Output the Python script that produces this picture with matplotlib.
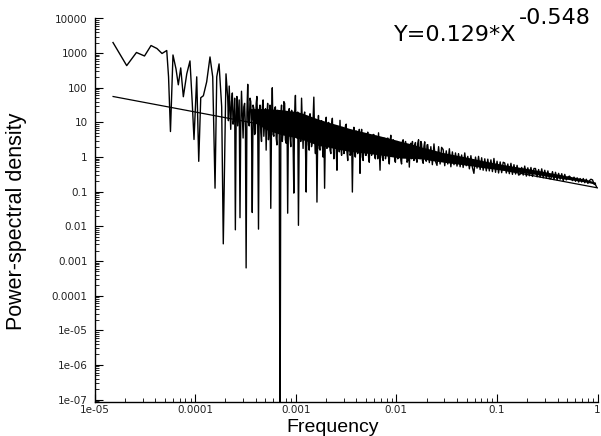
import numpy as np
import matplotlib
matplotlib.use("Agg")
import matplotlib.pyplot as plt
from matplotlib.ticker import LogLocator, NullFormatter

# spectrum, low-frequency part (log10 values)
low_log_freq = [-4.816, -4.680, -4.583, -4.503, -4.438, -4.379, -4.329, -4.282,
                -4.264, -4.245, -4.220, -4.190, -4.167, -4.143, -4.117, -4.083,
                -4.051, -4.028, -4.011, -3.984, -3.964, -3.944, -3.918, -3.885,
                -3.852, -3.825, -3.802, -3.785, -3.762, -3.736, -3.720, -3.693]
low_log_psd = [3.306, 2.640, 3.019, 2.918, 3.220, 3.133, 2.990, 3.076,
               2.316, 0.737, 2.947, 2.545, 2.086, 2.574, 1.742, 2.402,
               2.775, 1.541, 0.508, 2.316, -0.123, 1.713, 1.770, 2.172,
               2.890, 2.316, -0.898, 2.316, 2.689, 1.455, -2.505, 2.402]

# spectrum, dense part (busy middle section)
mid_log_freq = [
    -3.676, -3.669, -3.661, -3.653, -3.646, -3.638, -3.630, -3.623, -3.615, -3.607,
    -3.600, -3.592, -3.585, -3.577, -3.569, -3.562, -3.554, -3.546, -3.539, -3.531,
    -3.523, -3.516, -3.508, -3.500, -3.493, -3.485, -3.477, -3.470, -3.462, -3.454,
    -3.447, -3.439, -3.432, -3.424, -3.416, -3.409, -3.401, -3.393, -3.386, -3.378,
    -3.370, -3.363, -3.355, -3.347, -3.340, -3.332, -3.324, -3.317, -3.309, -3.301,
    -3.294, -3.286, -3.279, -3.271, -3.263, -3.256, -3.248, -3.240, -3.233, -3.225,
    -3.217, -3.210, -3.202, -3.194, -3.187, -3.179, -3.171, -3.164, -3.156, -3.148,
    -3.141, -3.133, -3.126, -3.118, -3.110, -3.103, -3.095, -3.087, -3.080, -3.072,
    -3.064, -3.057, -3.049, -3.041, -3.034, -3.026, -3.019, -3.011, -3.003, -2.996,
    -2.988, -2.980, -2.973, -2.965, -2.957, -2.950, -2.942, -2.934, -2.927, -2.919,
    -2.911, -2.904, -2.896, -2.888, -2.881, -2.873, -2.866, -2.858, -2.850, -2.843,
    -2.835, -2.827, -2.820, -2.812, -2.804, -2.797, -2.789, -2.781, -2.774, -2.766,
    -2.758, -2.751, -2.743, -2.735, -2.728, -2.720, -2.713, -2.705, -2.697, -2.690,
    -2.682, -2.674, -2.667, -2.659, -2.651, -2.644, -2.636, -2.628, -2.621, -2.613,
    -2.605, -2.598, -2.590, -2.582, -2.575, -2.567, -2.560, -2.552, -2.544, -2.537,
    -2.529, -2.521, -2.514, -2.506, -2.498, -2.491, -2.483, -2.475, -2.468, -2.460,
    -2.452, -2.445, -2.437, -2.429, -2.422, -2.414, -2.407, -2.399, -2.391, -2.384,
    -2.376, -2.368, -2.361, -2.353, -2.345, -2.338, -2.330, -2.322, -2.315, -2.307,
    -2.299, -2.292, -2.284, -2.276, -2.269, -2.261, -2.254, -2.246, -2.238, -2.231,
    -2.223, -2.215, -2.208, -2.200, -2.192, -2.185, -2.177, -2.169, -2.162, -2.154,
    -2.146, -2.139, -2.131, -2.123, -2.116, -2.108, -2.101, -2.093, -2.085, -2.078,
    -2.070, -2.062, -2.055, -2.047, -2.039, -2.032, -2.024, -2.016, -2.009, -2.001,
    -1.993, -1.986, -1.978, -1.970, -1.963, -1.955, -1.948, -1.940, -1.932, -1.925,
    -1.917, -1.909, -1.902, -1.894, -1.886, -1.879, -1.871, -1.863, -1.856, -1.848,
    -1.840, -1.833, -1.825, -1.817, -1.810, -1.802, -1.795, -1.787, -1.779, -1.772,
    -1.764, -1.756, -1.749, -1.741, -1.733, -1.726, -1.718, -1.710, -1.703, -1.695]
mid_log_psd = [
    1.70, 1.05, 2.05, 1.40, 0.80, 1.60, 1.85, 0.95, 1.10, 1.70,
    -2.10, 1.20, 1.75, 0.90, 1.30, 1.65, -1.75, 1.00, 1.90, 1.20,
    0.55, 1.45, 1.55, 0.85, -3.20, 1.30, 2.10, 1.00, 0.90, 1.70,
    1.60, 0.75, -1.60, 1.50, 1.40, 0.65, 0.70, 1.55, 1.75, 0.95,
    -2.08, 1.35, 1.50, 0.70, 0.45, 1.45, 1.65, 0.60, 1.00, 1.40,
    0.20, 1.25, 1.55, 0.50, 0.85, 1.50, -1.48, 1.10, 2.00, 0.65,
    0.60, 1.40, 1.45, 0.55, 0.35, 1.35, 1.30, 0.90, -9.00, 1.20,
    1.50, 0.45, 0.75, 1.60, 1.55, 0.50, 0.40, 1.30, -1.62, 1.25,
    1.40, 0.60, 0.30, 1.35, 1.20, 0.40, -1.04, 1.25, 1.78, 0.70,
    0.55, 1.30, -1.97, 0.80, 1.10, 0.45, 1.70, 0.90, 0.25, 1.20,
    1.30, 0.50, -1.01, 1.10, 1.15, 0.35, 0.20, 1.25, 1.00, 0.30,
    0.45, 1.15, 1.73, 0.60, 0.10, 1.05, -1.30, 0.70, 1.20, 0.25,
    0.20, 0.95, 1.05, 0.30, 0.00, 0.85, -0.90, 0.75, 1.15, 0.25,
    0.35, 1.00, 0.95, 0.20, 0.10, 0.90, 1.12, 0.40, -0.05, 0.80,
    0.90, 0.25, -0.38, 0.80, 0.75, 0.15, 1.06, 0.30, 0.05, 0.85,
    0.85, 0.10, 0.20, 0.90, 0.95, 0.15, -0.10, 0.75, 0.70, 0.05,
    0.10, 0.70, -1.01, 0.55, 0.86, 0.05, 0.00, 0.75, 0.70, 0.10,
    0.25, 0.80, -0.47, 0.55, 0.80, 0.00, -0.10, 0.65, 0.60, 0.05,
    0.05, 0.60, 0.72, 0.00, -0.15, 0.50, 0.55, 0.05, 0.20, 0.65,
    0.65, 0.00, -0.05, 0.60, 0.45, -0.05, 0.70, 0.10, -0.38, 0.50,
    0.50, 0.00, -0.10, 0.55, 0.40, -0.05, 0.10, 0.50, 0.55, 0.00,
    -0.20, 0.45, 0.63, 0.05, 0.05, 0.50, 0.45, -0.10, -0.15, 0.40,
    0.45, -0.05, 0.00, 0.40, 0.35, -0.10, -0.20, 0.45, 0.50, 0.00,
    0.15, 0.45, 0.30, -0.15, -0.10, 0.35, -0.29, 0.30, 0.40, -0.05,
    0.45, 0.05, -0.10, 0.35, 0.42, -0.05, -0.15, 0.40, 0.50, 0.00,
    -0.05, 0.45, 0.38, -0.10, -0.18, 0.30, 0.44, 0.00, -0.12, 0.35]

# spectrum, dense part (high-frequency tail)
high_log_freq = [
    -1.688, -1.672, -1.657, -1.642, -1.626, -1.611, -1.596, -1.580, -1.565, -1.550,
    -1.535, -1.519, -1.504, -1.489, -1.473, -1.458, -1.443, -1.427, -1.412, -1.397,
    -1.382, -1.366, -1.351, -1.336, -1.320, -1.305, -1.290, -1.274, -1.259, -1.244,
    -1.229, -1.213, -1.198, -1.183, -1.167, -1.152, -1.137, -1.121, -1.106, -1.091,
    -1.076, -1.060, -1.045, -1.030, -1.014, -0.999, -0.984, -0.968, -0.953, -0.938,
    -0.923, -0.907, -0.892, -0.877, -0.861, -0.846, -0.831, -0.815, -0.800, -0.785,
    -0.770, -0.754, -0.739, -0.724, -0.708, -0.693, -0.678, -0.662, -0.647, -0.632,
    -0.617, -0.601, -0.586, -0.571, -0.555, -0.540, -0.525, -0.509, -0.494, -0.479,
    -0.464, -0.448, -0.433, -0.418, -0.402, -0.387, -0.372, -0.356, -0.341, -0.326,
    -0.311, -0.295, -0.280, -0.265, -0.249, -0.234, -0.219, -0.203, -0.188, -0.173,
    -0.158, -0.142, -0.127, -0.112, -0.096, -0.081, -0.066, -0.050, -0.035, -0.020,
    -0.009]
high_log_psd = [
    0.36, -0.16, 0.30, -0.22, 0.38, -0.12, -0.24, 0.30, -0.20, 0.28,
    0.22, -0.25, 0.18, -0.20, 0.24, -0.28, 0.15, -0.22, 0.12, -0.26,
    0.10, -0.28, 0.06, -0.30, 0.12, -0.25, 0.02, -0.34, 0.04, -0.30,
    -0.47, 0.00, -0.32, 0.02, -0.36, -0.02, -0.38, -0.05, -0.40, -0.06,
    -0.40, -0.08, -0.42, -0.04, -0.44, -0.12, -0.46, -0.14, -0.45, -0.15,
    -0.17, -0.46, -0.20, -0.48, -0.18, -0.50, -0.22, -0.49, -0.24, -0.52,
    -0.50, -0.30, -0.52, -0.26, -0.55, -0.31, -0.54, -0.30, -0.56, -0.33,
    -0.33, -0.57, -0.36, -0.58, -0.34, -0.60, -0.38, -0.61, -0.40, -0.62,
    -0.63, -0.42, -0.65, -0.44, -0.66, -0.47, -0.64, -0.48, -0.69, -0.50,
    -0.66, -0.58, -0.55, -0.60, -0.68, -0.58, -0.70, -0.60, -0.72, -0.62,
    -0.72, -0.62, -0.74, -0.64, -0.76, -0.68, -0.64, -0.66, -0.78, -0.80,
    -0.87]

# where the trace is too dense to resolve: upper / lower edge of its black core
band_log_freq = [-3.45, -3.30, -3.15, -2.98, -2.88, -2.78, -2.68, -2.57, -2.47, -2.36,
                 -2.26, -2.16, -2.05, -1.95, -1.85, -1.75, -1.65, -1.55, -1.45, -1.35,
                 -1.24, -1.14, -1.04, -0.94, -0.84, -0.73, -0.63, -0.53, -0.43, -0.32,
                 -0.22, -0.12, -0.02]
band_top = [1.40, 1.40, 1.37, 1.31, 1.21, 1.10, 1.01, 0.92, 0.83, 0.75,
            0.68, 0.61, 0.53, 0.45, 0.38, 0.29, 0.22, 0.14, 0.08, 0.025,
            -0.04, -0.105, -0.16, -0.215, -0.265, -0.315, -0.365, -0.42, -0.475, -0.535,
            -0.585, -0.64, -0.725]
band_bottom = [1.10, 0.80, 0.65, 0.55, 0.45, 0.34, 0.29, 0.22, 0.17, 0.13,
               0.10, 0.06, 0.01, -0.03, -0.04, -0.05, -0.10, -0.14, -0.18, -0.215,
               -0.26, -0.305, -0.34, -0.375, -0.415, -0.455, -0.495, -0.54, -0.585, -0.635,
               -0.675, -0.72, -0.785]

# power-law fit, end points
fit_freq = [1.53e-5, 1.0]
fit_psd = [56.0, 0.129]
fit_label = "Y=0.129*X"
fit_exponent = "-0.548"

x_ticks = [1e-5, 1e-4, 1e-3, 1e-2, 1e-1, 1]
x_tick_labels = ["1e-05", "0.0001", "0.001", "0.01", "0.1", "1"]
y_ticks = [1e-7, 1e-6, 1e-5, 1e-4, 1e-3, 1e-2, 1e-1, 1, 10, 100, 1000, 10000]
y_tick_labels = ["1e-07", "1e-06", "1e-05", "0.0001", "0.001", "0.01", "0.1",
                 "1", "10", "100", "1000", "10000"]

freq = 10 ** np.array(low_log_freq + mid_log_freq + high_log_freq)
psd = 10 ** np.array(low_log_psd + mid_log_psd + high_log_psd)

plt.rcParams['font.family'] = ['Liberation Sans', 'DejaVu Sans']

W, H = 601, 436
fig = plt.figure(figsize=(W / 100, H / 100), dpi=100)
ax = fig.add_axes([94.5 / W, 1 - 402 / H, 503.5 / W, 383.5 / H])

ax.fill_between(10 ** np.array(band_log_freq), 10 ** np.array(band_bottom),
                10 ** np.array(band_top), color='black', lw=0)
ax.plot(freq, psd, color='black', lw=1.0)
ax.plot(fit_freq, fit_psd, color='black', lw=0.9)

ax.set_xscale('log')
ax.set_yscale('log')
ax.set_xlim(1e-5, 1.01)
ax.set_ylim(8.5e-8, 1e4)

ax.set_xticks(x_ticks, x_tick_labels)
ax.set_yticks(y_ticks, y_tick_labels)
ax.xaxis.set_minor_locator(LogLocator(base=10, subs=[2, 3, 4, 5, 6, 7, 8, 9], numticks=100))
ax.yaxis.set_minor_locator(LogLocator(base=10, subs=[2, 3, 4, 5, 6, 7, 8, 9], numticks=100))
ax.xaxis.set_minor_formatter(NullFormatter())
ax.yaxis.set_minor_formatter(NullFormatter())

ax.tick_params(which='major', direction='in', length=6, width=0.8,
               labelsize=7.5, labelcolor='#222222', labelfontfamily='DejaVu Sans')
ax.tick_params(axis='x', which='major', pad=2)
ax.tick_params(axis='y', which='major', pad=5)
ax.tick_params(which='minor', direction='in', length=3, width=0.6)
ax.tick_params(top=False, right=False, which='both')

for side in ['top', 'right']:
    ax.spines[side].set_visible(False)
for side in ['left', 'bottom']:
    ax.spines[side].set_linewidth(1.0)

fig.text(333 / W, 1 - 427 / H, "Frequency", fontsize=14, ha='center', va='center')
fig.text(17 / W, 1 - 221 / H, "Power-spectral density", fontsize=15.5,
         rotation=90, ha='center', va='center')

fig.text(394 / W, 1 - 41 / H, fit_label, fontsize=16, va='baseline', ha='left',
         family='DejaVu Sans')
fig.text(519 / W, 1 - 24 / H, fit_exponent, fontsize=16, va='baseline', ha='left',
         family='DejaVu Sans')

fig.savefig("out.png", dpi=100)
